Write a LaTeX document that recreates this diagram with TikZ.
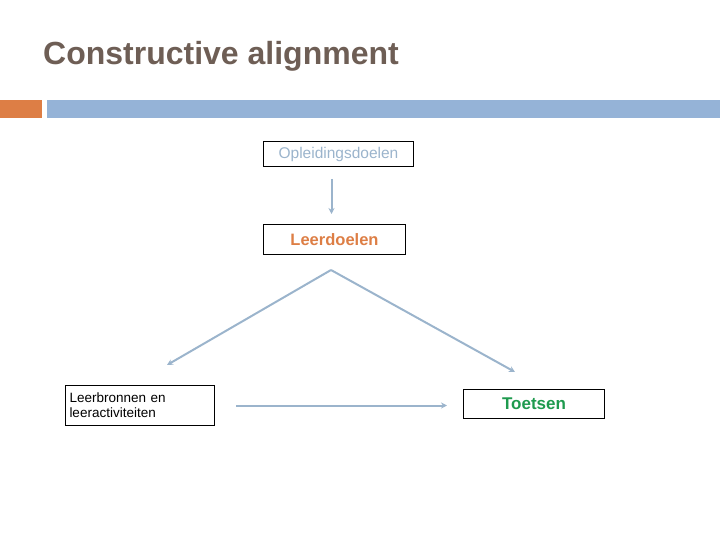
\documentclass[tikz,border=0pt]{standalone}
\usepackage{fontspec}
\setmainfont{Liberation Sans}
\usetikzlibrary{arrows.meta}
\definecolor{titlegray}{HTML}{6E5E55}
\definecolor{barorange}{HTML}{DD7E45}
\definecolor{barblue}{HTML}{95B3D7}
\definecolor{linkblue}{HTML}{9BB4CC}
\definecolor{goalgreen}{HTML}{1E9A4E}
\tikzset{
goalbox/.style={draw=black, line width=1pt, inner sep=0pt, anchor=north west},
link/.style={linkblue, line width=2pt, -{Stealth[length=6pt,width=6pt]}}
}
\begin{document}
\begin{tikzpicture}[x=1pt,y=-1pt]
\useasboundingbox (0,0) rectangle (720,540);

% Title and bar
\node[anchor=west, inner sep=0pt, text=titlegray, font=\fontsize{32}{36}\selectfont\bfseries] (title) at (43,56) {Constructive alignment};
\fill[barorange] (0,100) rectangle (42,118);
\fill[barblue] (47,100) rectangle (720,118);

% Boxes
\node[goalbox, minimum width=150pt, minimum height=25pt, text=linkblue, font=\fontsize{15.5}{18}\selectfont] (opleiding) at (263,141) {Opleidingsdoelen};
\node[goalbox, minimum width=142pt, minimum height=30pt, text=barorange, font=\fontsize{16.5}{19}\selectfont\bfseries] (leerdoelen) at (263,224) {Leerdoelen};
\node[goalbox, minimum width=148pt, minimum height=40pt, align=left, text width=141pt, inner xsep=4pt, font=\fontsize{13.5}{15}\selectfont] (leerbronnen) at (65,385) {Leerbronnen en\\leeractiviteiten};
\node[goalbox, minimum width=141pt, minimum height=29pt, text=goalgreen, font=\fontsize{17}{19}\selectfont\bfseries] (toetsen) at (463,389) {Toetsen};

% Coordinates
\coordinate (apex) at (331,270);
\coordinate (left_end) at (167,365);
\coordinate (right_end) at (515,372);

% Arrows
\draw[link] ([xshift=-7pt,yshift=-12pt]opleiding.south) -- ([xshift=-3pt,yshift=10pt]leerdoelen.north);
\draw[link] (apex) -- (left_end);
\draw[link] (apex) -- (right_end);
\draw[link] ([xshift=21pt]leerbronnen.east) -- ([xshift=-16pt]toetsen.west |- leerbronnen.east);
\end{tikzpicture}
\end{document}
